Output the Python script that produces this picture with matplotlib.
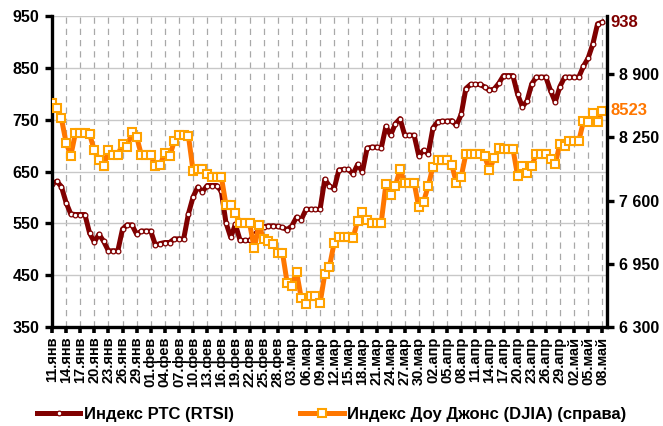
import numpy as np
import pandas as pd
import matplotlib
matplotlib.use("Agg")
import matplotlib.pyplot as plt

plt.rcParams['font.family'] = ['Liberation Sans', 'DejaVu Sans']
plt.rcParams['font.weight'] = 'bold'

# daily values, 11.01.2009 - 08.05.2009 (weekends carry the last value)
start_date = '2009-01-11'
rtsi = [626, 631, 621, 590, 568, 567, 567, 567, 531, 514,
        529, 515, 497, 497, 497, 539, 547, 547, 529, 535,
        535, 535, 508, 511, 513, 513, 520, 520, 520, 568,
        601, 620, 611, 623, 623, 623, 612, 551, 523, 548,
        517, 517, 517, 527, 538, 543, 545, 545, 544, 542,
        538, 545, 562, 557, 577, 577, 577, 577, 635, 622,
        617, 653, 654, 654, 645, 664, 649, 695, 697, 697,
        695, 737, 720, 742, 752, 720, 720, 720, 680, 691,
        684, 734, 746, 747, 747, 748, 739, 760, 810, 818,
        818, 818, 813, 807, 809, 820, 835, 835, 835, 799,
        775, 786, 819, 832, 832, 832, 806, 784, 814, 832,
        832, 832, 832, 853, 869, 896, 935, 938]
djia = [8605, 8550, 8447, 8198, 8062, 8299, 8299, 8299, 8283, 8118,
        8018, 7958, 8117, 8070, 8070, 8186, 8155, 8306, 8258, 8070,
        8070, 8065, 7954, 7970, 8095, 8055, 8210, 8280, 8280, 8270,
        7907, 7930, 7930, 7874, 7847, 7847, 7847, 7555, 7555, 7470,
        7370, 7370, 7370, 7110, 7345, 7208, 7183, 7154, 7066, 7066,
        6756, 6722, 6869, 6595, 6537, 6622, 6622, 6544, 6845, 6921,
        7168, 7226, 7223, 7223, 7213, 7394, 7487, 7401, 7370, 7373,
        7373, 7771, 7658, 7751, 7923, 7785, 7785, 7785, 7530, 7589,
        7751, 7950, 8018, 8018, 8018, 7970, 7780, 7845, 8080, 8080,
        8080, 8080, 8055, 7915, 8036, 8139, 8135, 8135, 8135, 7854,
        7957, 7881, 7960, 8080, 8080, 8080, 8029, 7975, 8188, 8160,
        8210, 8212, 8212, 8415, 8411, 8505, 8410, 8523]
months_ru = {1: 'янв', 2: 'фев', 3: 'мар', 4: 'апр', 5: 'май'}
left_ticks = [350, 450, 550, 650, 750, 850, 950]
right_ticks = [6300, 6950, 7600, 8250, 8900]

dates = pd.date_range(start_date, periods=len(rtsi), freq='D')
x = np.arange(len(rtsi))
tick_pos = x[::3]
tick_labels = ['%02d.%s' % (d.day, months_ru[d.month]) for d in dates[::3]]

dark_red = '#800000'
orange = '#FF7700'
orange_edge = '#FFA200'

fig = plt.figure(figsize=(6.63, 4.26), dpi=100)
ax = fig.add_axes([0.0784, 0.2324, 0.8371, 0.730])
ax2 = ax.twinx()

l1, = ax.plot(x, rtsi, color=dark_red, lw=3.6, marker='o', ms=3.4,
              mfc='white', mec=dark_red, mew=0.9, label='Индекс РТС (RTSI)')
l2, = ax2.plot(x, djia, color=orange, lw=3.6, marker='s', ms=6.2,
               mfc='white', mec=orange_edge, mew=1.5,
               label='Индекс Доу Джонс (DJIA) (справа)')

ax.set_xlim(0, 118)
ax.set_ylim(350, 950)
ax2.set_ylim(6300, 9500)
ax.set_yticks(left_ticks)
ax2.set_yticks(right_ticks)
ax2.set_yticklabels(['{:,}'.format(v).replace(',', ' ') for v in right_ticks])
ax.set_xticks(tick_pos)
ax.set_xticklabels(tick_labels, rotation=90, fontsize=10.5)

ax.grid(axis='y', color='#C8C8C8', lw=1.0)
ax.grid(axis='x', color='#A8A8A8', lw=0.9, ls=(0, (5, 4)))
ax.set_axisbelow(True)

for a in (ax, ax2):
    a.spines['top'].set_visible(False)
    for s in ('left', 'right', 'bottom'):
        a.spines[s].set_linewidth(2.4)
ax.spines['right'].set_visible(False)
ax2.spines['left'].set_visible(False)
ax2.spines['bottom'].set_visible(False)

ax.tick_params(axis='y', labelsize=11.5, width=2.4, length=5, pad=4)
ax.tick_params(axis='x', width=2.6, length=4, pad=3)
ax2.tick_params(axis='y', labelsize=11.5, width=2.4, length=5, pad=4)

ax.text(1.006, (rtsi[-1] - 350) / 600, str(rtsi[-1]), transform=ax.transAxes,
        color=dark_red, fontsize=12, fontweight='bold', va='center', ha='left')
ax2.text(1.006, (djia[-1] - 6300) / 3200, str(djia[-1]), transform=ax2.transAxes,
         color=orange, fontsize=12, fontweight='bold', va='center', ha='left')

fig.legend(handles=[l1, l2], loc='center', bbox_to_anchor=(0.5, 0.028), ncol=2,
           frameon=False, fontsize=12, handlelength=2.6, columnspacing=4.0,
           handletextpad=0.2)

fig.savefig('out.png', dpi=100)
